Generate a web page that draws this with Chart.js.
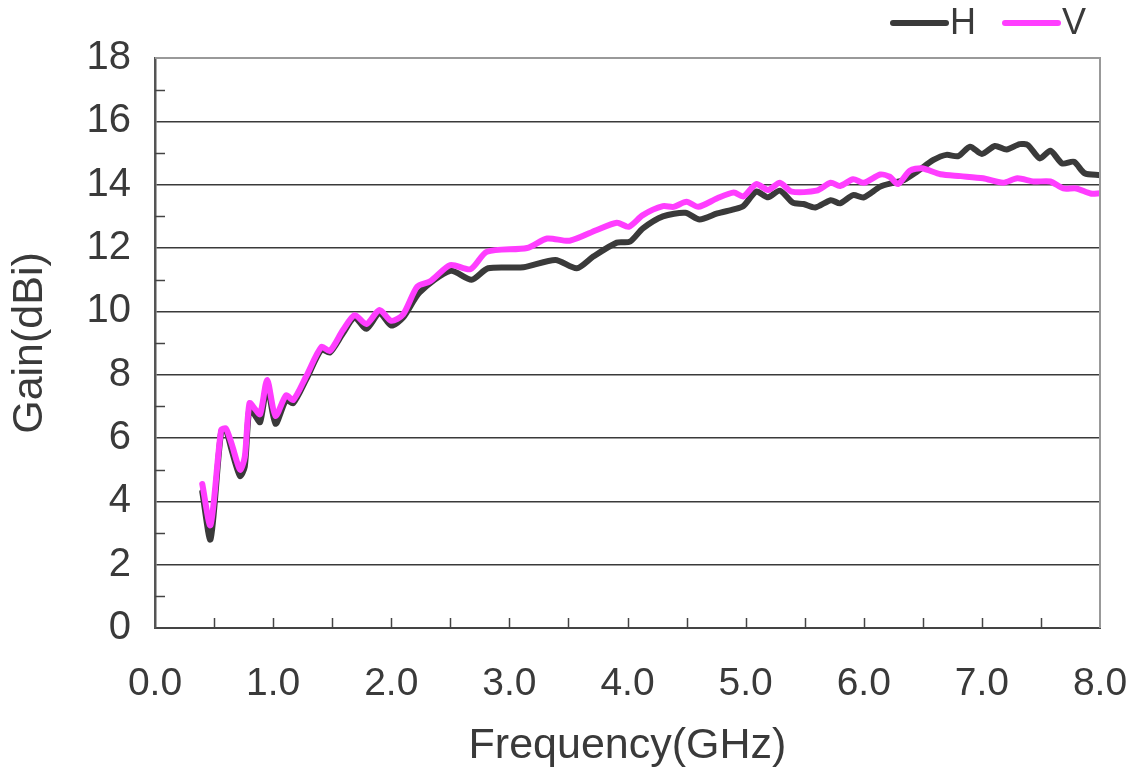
<!DOCTYPE html>
<html>
<head>
<meta charset="utf-8">
<script src="https://cdn.jsdelivr.net/npm/chart.js@4.4.1/dist/chart.umd.min.js"></script>
<style>
html,body{margin:0;padding:0;background:#fff;}
#wrap{width:1130px;height:776px;position:relative;}
</style>
</head>
<body>
<div id="wrap"><canvas id="c" width="1130" height="776"></canvas></div>
<script>
// ---- data ----
const seriesNames = ['H', 'V'];
const hFreq = [0.40,0.47,0.56,0.60,0.65,0.72,0.76,0.80,0.85,0.89,0.95,1.02,1.11,1.17,1.28,1.41,1.48,1.59,1.69,1.79,1.90,2.00,2.10,2.24,2.50,2.68,2.82,3.12,3.39,3.57,3.71,3.91,4.02,4.13,4.30,4.49,4.61,4.76,4.90,4.98,5.09,5.19,5.29,5.40,5.49,5.59,5.72,5.80,5.91,6.00,6.14,6.25,6.34,6.45,6.59,6.70,6.80,6.90,7.00,7.11,7.21,7.32,7.39,7.49,7.58,7.68,7.78,7.87,8.00];
const hGain = [4.3,2.8,6.2,6.25,5.6,4.8,5.1,6.95,6.7,6.5,7.65,6.45,7.2,7.1,7.85,8.8,8.7,9.3,9.8,9.45,9.95,9.55,9.8,10.6,11.28,11.0,11.36,11.39,11.62,11.36,11.73,12.17,12.2,12.62,13.0,13.11,12.9,13.09,13.22,13.32,13.78,13.6,13.81,13.43,13.39,13.28,13.51,13.41,13.67,13.6,13.94,14.06,14.15,14.41,14.78,14.94,14.9,15.2,14.97,15.22,15.11,15.28,15.25,14.83,15.07,14.67,14.72,14.36,14.3];
const vFreq = [0.40,0.47,0.56,0.60,0.65,0.72,0.76,0.80,0.85,0.89,0.95,1.02,1.11,1.17,1.28,1.41,1.48,1.59,1.69,1.79,1.90,2.00,2.10,2.22,2.33,2.50,2.67,2.81,3.15,3.32,3.51,3.74,3.91,4.01,4.13,4.30,4.39,4.50,4.60,4.76,4.90,4.98,5.09,5.19,5.29,5.39,5.60,5.72,5.80,5.91,6.00,6.14,6.22,6.29,6.39,6.49,6.65,6.82,7.01,7.18,7.30,7.44,7.58,7.69,7.80,7.92,8.00];
const vGain = [4.55,3.25,6.25,6.3,5.8,5.0,5.4,7.1,6.9,6.75,7.83,6.7,7.35,7.2,7.95,8.88,8.75,9.4,9.88,9.6,10.04,9.7,9.9,10.78,10.95,11.46,11.33,11.88,12.0,12.3,12.23,12.57,12.8,12.67,13.04,13.32,13.3,13.46,13.3,13.57,13.75,13.63,14.02,13.83,14.06,13.78,13.81,14.06,13.96,14.17,14.06,14.32,14.25,14.02,14.44,14.52,14.33,14.27,14.2,14.06,14.2,14.1,14.1,13.88,13.88,13.72,13.73];
const xMin = 0, xMax = 8, xStep = 0.5;
const yMin = 0, yMax = 18, yStep = 1;
const xTitle = 'Frequency(GHz)';
const yTitle = 'Gain(dBi)';

const toPts = (xs, ys) => xs.map((x, i) => ({x: x, y: ys[i]}));
const colors = ['#3a3a3a', '#ff3dff'];
const FONT = "'Liberation Sans', Arial, sans-serif";
const TXT = '#3a3a3a';

const decor = {
  id: 'decor',
  afterDraw(chart) {
    const ctx = chart.ctx, a = chart.chartArea;
    const xs = chart.scales.x, ys = chart.scales.y;
    ctx.save();
    // inward minor ticks
    ctx.strokeStyle = '#444'; ctx.lineWidth = 1.5;
    xs.ticks.forEach(t => {
      if (t.value <= xMin || t.value >= xMax) return;
      const px = Math.round(xs.getPixelForValue(t.value)) + 0.5;
      ctx.beginPath(); ctx.moveTo(px, a.bottom); ctx.lineTo(px, a.bottom - 10); ctx.stroke();
    });
    ys.ticks.forEach(t => {
      if (t.value % 2 === 0) return;
      const py = Math.round(ys.getPixelForValue(t.value)) + 0.5;
      ctx.beginPath(); ctx.moveTo(a.left, py); ctx.lineTo(a.left + 10, py); ctx.stroke();
    });
    // frame
    ctx.strokeStyle = '#999'; ctx.lineWidth = 2;
    ctx.beginPath(); ctx.moveTo(a.left, a.top); ctx.lineTo(a.right, a.top); ctx.lineTo(a.right, a.bottom); ctx.stroke();
    // legend
    ctx.font = '36px ' + FONT; ctx.textBaseline = 'middle'; ctx.textAlign = 'left';
    const ly = 23;
    let lx = 890;
    chart.data.datasets.forEach((ds, i) => {
      ctx.strokeStyle = ds.borderColor; ctx.lineWidth = 6; ctx.lineCap = 'round';
      ctx.beginPath(); ctx.moveTo(lx + 3, ly); ctx.lineTo(lx + 56, ly); ctx.stroke();
      ctx.fillStyle = TXT;
      ctx.fillText(ds.label, lx + 60, ly + 1);
      lx += 112;
    });
    ctx.restore();
  }
};

new Chart(document.getElementById('c'), {
  type: 'line',
  data: {
    datasets: [
      {label: seriesNames[0], order: 1, data: toPts(hFreq, hGain), borderColor: colors[0], borderWidth: 6, pointRadius: 0, tension: 0.25, borderCapStyle: 'round', borderJoinStyle: 'round', fill: false},
      {label: seriesNames[1], order: 0, data: toPts(vFreq, vGain), borderColor: colors[1], borderWidth: 6, pointRadius: 0, tension: 0.25, borderCapStyle: 'round', borderJoinStyle: 'round', fill: false}
    ]
  },
  options: {
    responsive: false,
    animation: false,
    devicePixelRatio: 1,
    layout: {padding: {top: 58, right: 0, left: 0, bottom: 0}},
    plugins: {legend: {display: false}, tooltip: {enabled: false}},
    scales: {
      x: {
        type: 'linear', min: xMin, max: xMax,
        grid: {display: false, drawTicks: false},
        border: {display: true, color: '#444', width: 2},
        ticks: {
          stepSize: xStep, autoSkip: false, maxRotation: 0, padding: 33,
          color: TXT, font: {size: 39, family: FONT},
          callback: v => (Math.abs(v - Math.round(v)) < 1e-9 ? v.toFixed(1) : '')
        },
        title: {display: true, text: xTitle, color: TXT, font: {size: 43, family: FONT}, padding: {top: 8}},
        afterFit: s => { s.height = 148; s.paddingRight = 30; s.paddingLeft = 0; }
      },
      y: {
        min: yMin, max: yMax,
        grid: {drawTicks: false, lineWidth: 1.5, color: c => (c.tick && c.tick.value % 2 === 0 ? '#3a3a3a' : 'rgba(0,0,0,0)')},
        border: {display: true, color: '#555', width: 2.5},
        ticks: {
          stepSize: yStep, autoSkip: false, padding: 24,
          color: TXT, font: {size: 40, family: FONT},
          callback: v => (v % 2 === 0 ? String(v) : '')
        },
        title: {display: true, text: yTitle, color: TXT, font: {size: 43, family: FONT}, padding: {bottom: 0}},
        afterFit: s => { s.width = 155; }
      }
    }
  },
  plugins: [decor]
});
</script>
</body>
</html>
